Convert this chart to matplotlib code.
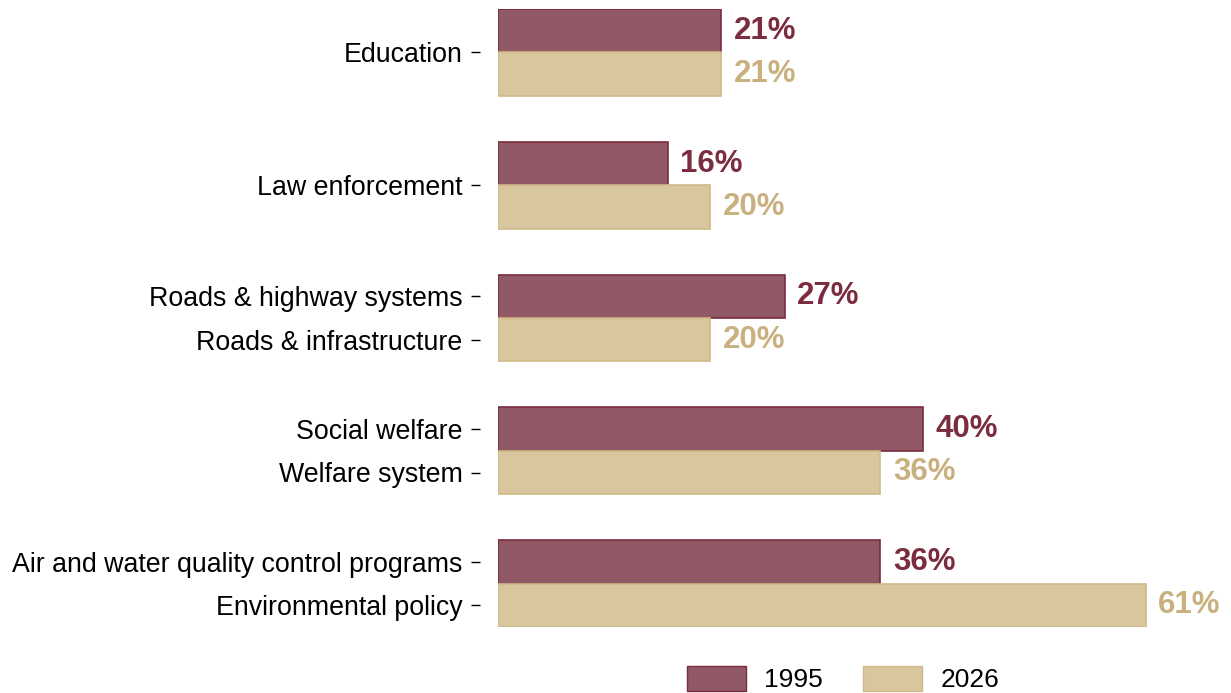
import numpy as np
import matplotlib.pyplot as plt
from matplotlib.patches import Patch

plt.rcParams['font.family'] = ['Liberation Sans', 'DejaVu Sans']

# survey shares (%) per spending area
groups = ['Education', 'Law enforcement', 'Roads', 'Welfare', 'Environment']
labels_1995 = ['Education', 'Law enforcement', 'Roads & highway systems',
               'Social welfare', 'Air and water quality control programs']
labels_2026 = ['Education', 'Law enforcement', 'Roads & infrastructure',
               'Welfare system', 'Environmental policy']
values_1995 = [21, 16, 27, 40, 36]
values_2026 = [21, 20, 20, 36, 61]

fill_1995, edge_1995, text_1995 = '#915866', '#7a2c3e', '#7b2d40'
fill_2026, edge_2026, text_2026 = '#d8c69f', '#d0b986', '#c9b07f'

W, H = 1231, 693
fig = plt.figure(figsize=(W / 100, H / 100), dpi=100)
left, right, top, bottom = 498, 1231, 9, 627
ax = fig.add_axes([left / W, 1 - bottom / H, (right - left) / W, (bottom - top) / H])

y = np.arange(len(groups))
h = 0.327
ax.barh(y - h / 2, values_1995, height=h, color=fill_1995, edgecolor=edge_1995, linewidth=1.2)
ax.barh(y + h / 2, values_2026, height=h, color=fill_2026, edgecolor=edge_2026, linewidth=1.2)

ax.set_xlim(0, (right - left) / 10.62)
ax.set_ylim(len(groups) - 1 + h, -h)

# value labels at the end of each bar
for i in range(len(groups)):
    ax.annotate(f'{values_1995[i]}%', (values_1995[i], y[i] - h / 2), xytext=(9, 0),
                textcoords='offset points', va='center', ha='left',
                fontsize=22.5, fontweight='bold', color=text_1995)
    ax.annotate(f'{values_2026[i]}%', (values_2026[i], y[i] + h / 2), xytext=(9, 0),
                textcoords='offset points', va='center', ha='left',
                fontsize=22.5, fontweight='bold', color=text_2026)

# same wording in both years gets one tick at the group centre
ticks, tick_labels = [], []
for i in range(len(groups)):
    if labels_1995[i] == labels_2026[i]:
        ticks.append(y[i])
        tick_labels.append(labels_1995[i])
    else:
        ticks += [y[i] - h / 2, y[i] + h / 2]
        tick_labels += [labels_1995[i], labels_2026[i]]
ax.set_yticks(ticks)
ax.set_yticklabels(tick_labels)
ax.tick_params(axis='y', length=6.5, width=1, pad=6, labelsize=19.3)
ax.set_xticks([])

for s in ['top', 'right', 'bottom']:
    ax.spines[s].set_visible(False)
ax.spines['left'].set_position(('outward', 13))
ax.spines['left'].set_visible(False)

handles = [Patch(facecolor=fill_1995, edgecolor=edge_1995, label='1995'),
           Patch(facecolor=fill_2026, edgecolor=edge_2026, label='2026')]
fig.legend(handles=handles, loc='center', bbox_to_anchor=(843 / W, 1 - 679 / H), ncol=2,
           frameon=False, fontsize=19, handlelength=2.25, handleheight=1.1,
           handletextpad=0.7, columnspacing=1.5)

fig.savefig('out.png', dpi=100)
